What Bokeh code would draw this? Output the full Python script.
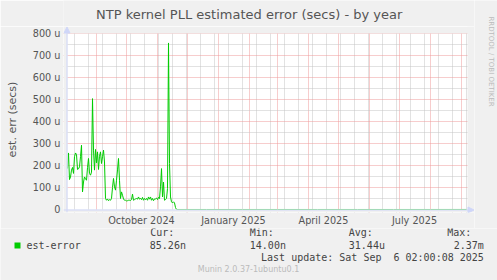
from math import pi
import pandas as pd
from bokeh.plotting import figure
from bokeh.layouts import column, row
from bokeh.core.properties import value
from bokeh.models import (FixedTicker, DatetimeTickFormatter, PrintfTickFormatter,
                          Range1d, ColumnDataSource, BoxAnnotation, Arrow, NormalHead)
from bokeh.embed import file_html
from bokeh.resources import INLINE

# ---------------- data ----------------
title_text = "NTP kernel PLL estimated error (secs) - by year"
y_label_text = "est. err (secs)"
series_name = "est-error"
watermark_text = "RRDTOOL / TOBI OETIKER"
footer_text = "Munin 2.0.37-1ubuntu0.1"
last_update_text = "Last update: Sat Sep  6 02:00:08 2025"

# daily estimated error (microseconds), one value per day from start_date
start_date = "2024-08-03"
est_error_us = [186, 257, 136, 148, 179, 191, 164, 240, 257, 250,
                182, 185, 194, 240, 292, 80, 125, 148, 140, 133,
                190, 232, 164, 156, 170, 504, 270, 179, 273, 212,
                262, 182, 242, 262, 209, 240, 270, 216, 50, 42,
                48, 40, 45, 42, 50, 100, 141, 103, 88, 133,
                180, 232, 133, 50, 80, 65, 48, 42, 42, 39,
                40, 42, 42, 41, 45, 70, 42, 45, 48, 50,
                47, 57, 47, 50, 45, 55, 42, 50, 45, 50,
                42, 57, 47, 57, 42, 50, 40, 48, 48, 52,
                45, 55, 50, 103, 186, 57, 125, 42, 45, 50,
                95, 757, 209, 57, 35, 30, 35, 30, 9]
# later, near-zero period (microseconds)
tail_dates = ["2024-11-20", "2024-12-20", "2025-01-25", "2025-03-01", "2025-04-10",
              "2025-05-20", "2025-06-25", "2025-08-01", "2025-09-06"]
tail_us = [0.06, 0.03, 0.02, 0.04, 0.014, 0.05, 0.03, 0.04, 0.08526]

x_start, x_end = "2024-08-03", "2025-09-07"
x_label_dates = ["2024-10-16", "2025-01-16", "2025-04-16", "2025-07-16"]
y_max = 800
y_ticks = [0, 100, 200, 300, 400, 500, 600, 700, 800]
y_minor = [50, 150, 250, 350, 450, 550, 650, 750]

stat_heads = ["Cur:", "Min:", "Avg:", "Max:"]
stat_values = ["85.26n", "14.00n", "31.44u", "2.37m"]

# ---------------- styling / layout constants ----------------
W, H = 497, 280
PL, PT, PR, PB = 67, 33, 467, 209   # white plotting canvas in page pixels
FL, FT, FR, FB = 63, 26, 474, 212   # bokeh frame (canvas + room for axis arrows)
MAIN_H = 228
BG = "#F0F0F0"
AX = "#CFD6F8"
FONT = "#555555"
LEG = "#444444"
GREEN = "#00CC00"
SANS = "DejaVu Sans"
MONO = "DejaVu Sans Mono"
DAY_MS = 86400000.0


def ms(d):
    return pd.Timestamp(d).value / 1e6


X0 = ms(x_start)
PX_PER_DAY = (PR - PL) / ((ms(x_end) - X0) / DAY_MS)
U_PER_PX = y_max / (PB - PT)


def xv(px):   # page pixel -> x value
    return X0 + (px - PL) / PX_PER_DAY * DAY_MS


def yv(py):   # page pixel -> y value
    return (PB - py) * U_PER_PX


def blank(width, height, xr, yr, left=0):
    f = figure(width=width, height=height, output_backend="svg", toolbar_location=None,
               x_range=Range1d(*xr), y_range=Range1d(*yr), title=None,
               x_axis_location=None, y_axis_location=None,
               min_border_left=left, min_border_right=0, min_border_top=0, min_border_bottom=0)
    f.grid.visible = False
    f.outline_line_color = None
    f.background_fill_color = BG
    f.border_fill_color = BG
    return f


# ---------------- main chart ----------------
dates = list(pd.date_range(start_date, periods=len(est_error_us), freq="D")) + \
        [pd.Timestamp(d) for d in tail_dates]
vals = est_error_us + tail_us
src = ColumnDataSource(dict(x=dates, y=vals))

p = figure(width=FR, height=MAIN_H - FT, x_axis_type="datetime", output_backend="svg",
           toolbar_location=None, title=None,
           x_range=Range1d(xv(FL), xv(FR)), y_range=Range1d(yv(FB), yv(FT)),
           min_border_left=FL, min_border_right=0,
           min_border_top=0, min_border_bottom=MAIN_H - FB)
p.border_fill_color = BG
p.background_fill_color = "white"
p.outline_line_color = None

p.line("x", "y", source=src, line_color=GREEN, line_width=1)

month_starts = [ms(d) for d in pd.date_range("2024-09-01", "2025-09-01", freq="MS")]
biweekly = [ms(d) for d in pd.date_range("2024-08-10", "2025-09-06", freq="14D")]

p.xgrid.ticker = FixedTicker(ticks=month_starts, minor_ticks=biweekly)
p.ygrid.ticker = FixedTicker(ticks=y_ticks[1:], minor_ticks=y_minor)
for g in (p.xgrid[0], p.ygrid[0]):
    g.grid_line_color = "#EE9A9A"
    g.grid_line_dash = "1 1"
    g.grid_line_width = 1
    g.minor_grid_line_color = "#C4C4C4"
    g.minor_grid_line_dash = "1 1"
    g.minor_grid_line_width = 1

p.xaxis.ticker = FixedTicker(ticks=[ms(d) for d in x_label_dates])
fmt = "%B %Y"
p.xaxis.formatter = DatetimeTickFormatter(microseconds=fmt, milliseconds=fmt, seconds=fmt,
                                          minsec=fmt, minutes=fmt, hourmin=fmt, hours=fmt,
                                          days=fmt, months=fmt, years=fmt)
p.yaxis.ticker = FixedTicker(ticks=y_ticks)
p.yaxis.formatter = PrintfTickFormatter(format="%d u")
p.yaxis.major_label_overrides = {0: "0"}

for ax in (p.xaxis[0], p.yaxis[0]):
    ax.axis_line_color = None
    ax.major_tick_line_color = None
    ax.minor_tick_line_color = None
    ax.major_tick_out = 0
    ax.major_tick_in = 0
    ax.major_label_text_font = SANS
    ax.major_label_text_font_size = "9.7px"
    ax.major_label_text_color = FONT
p.xaxis.major_label_standoff = 2
p.yaxis.major_label_standoff = 3
p.yaxis.axis_label = y_label_text
p.yaxis.axis_label_text_font = SANS
p.yaxis.axis_label_text_font_size = "11px"
p.yaxis.axis_label_text_font_style = "normal"
p.yaxis.axis_label_text_color = FONT
p.yaxis.axis_label_standoff = 11

# grey margins around the white canvas inside the frame
for kw in (dict(bottom=y_max), dict(top=0), dict(right=X0), dict(left=ms(x_end))):
    p.add_layout(BoxAnnotation(fill_color=BG, fill_alpha=1, line_color=None, **kw))

# axis lines with arrow heads
p.add_layout(Arrow(x_start=xv(PL - 0.5), y_start=yv(FB), x_end=xv(PL - 0.5), y_end=yv(FT + 0.5),
                   line_color=AX, line_width=1,
                   end=NormalHead(size=6, fill_color=AX, line_color=AX, line_width=1)))
p.add_layout(Arrow(x_start=xv(FL), y_start=yv(PB + 0.5), x_end=xv(FR - 0.5), y_end=yv(PB + 0.5),
                   line_color=AX, line_width=1,
                   end=NormalHead(size=6, fill_color=AX, line_color=AX, line_width=1)))

# ---------------- header (title) ----------------
hdr = blank(FR, FT, (FL, FR), (FT, 0), left=FL)
hdr.text(x=[248.7], y=[13.5], text=[title_text], text_font=value(SANS),
         text_font_size=value("13px"), text_color=FONT, text_align="center",
         text_baseline="middle")

# ---------------- right strip (watermark) ----------------
rgt = blank(W - FR, MAIN_H, (FR, W), (MAIN_H, 0))
rgt.text(x=[490], y=[61], text=[watermark_text], text_font=value(SANS),
         text_font_size=value("7px"), text_color="#BBBBBB", text_align="center",
         text_baseline="middle", angle=-pi / 2)

# ---------------- footer (legend + info) ----------------
ftr = blank(W, H - MAIN_H, (0, W), (H, MAIN_H))
ftr.scatter(x=[17], y=[245], marker="square", size=6, fill_color=GREEN, line_color=None)
ftr.text(x=[26], y=[245], text=[series_name], text_font=value(MONO),
         text_font_size=value("10px"), text_color=LEG, text_baseline="middle")
ftr.text(x=[149.7, 249.3, 348.3, 446.7], y=[232.3] * 4, text=stat_heads,
         text_font=value(MONO), text_font_size=value("10px"), text_color=LEG,
         text_baseline="middle")
ftr.text(x=[149.3, 249.3, 348.3, 483.3], y=[245] * 4, text=stat_values,
         text_font=value(MONO), text_font_size=value("10px"), text_color=LEG,
         text_baseline="middle", text_align=["left", "left", "left", "right"])
ftr.text(x=[483.3], y=[256.7], text=[last_update_text.replace("  ", " \u00a0")],
         text_font=value(MONO), text_font_size=value("10px"), text_color=LEG,
         text_baseline="middle", text_align="right")
ftr.text(x=[248], y=[269], text=[footer_text], text_font=value(SANS),
         text_font_size=value("8px"), text_color="#BBBBBB", text_baseline="middle",
         text_align="center")

layout = column(row(column(hdr, p, spacing=0), rgt, spacing=0), ftr, spacing=0)
open("out.html", "w").write(file_html(layout, INLINE))
